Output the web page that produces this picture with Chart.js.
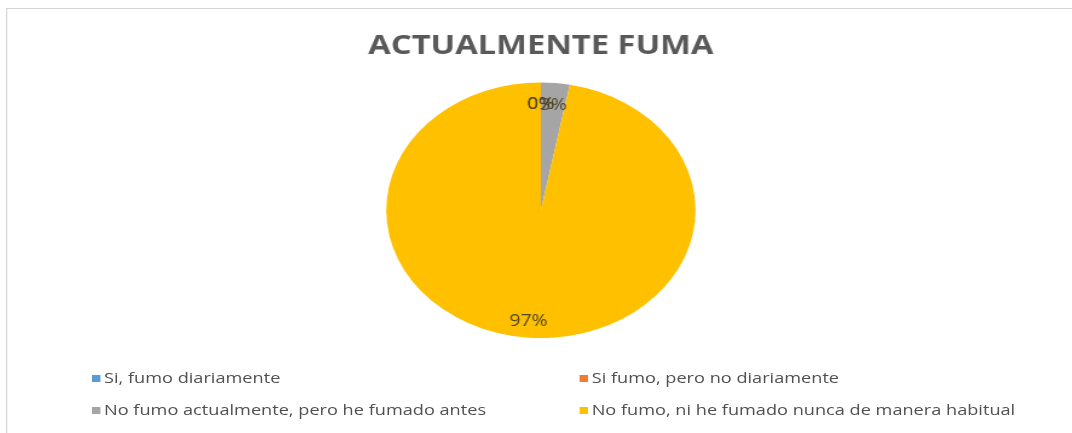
<!DOCTYPE html>
<html>
<head>
<meta charset="utf-8">
<script src="https://cdn.jsdelivr.net/npm/chart.js@4"></script>
<style>
  html, body { margin: 0; padding: 0; background: #fff; overflow: hidden; }
  #stage {
    position: absolute; left: 0; top: 0;
    width: 886px; height: 433px;
    transform: scaleX(1.21); transform-origin: 0 0;
  }
  #frame {
    position: absolute; left: 5px; top: 8px; width: 900px; height: 440px;
    border-left: 1px solid #d4d4d4; border-top: 1px solid #d4d4d4;
  }
  #pie { position: absolute; left: 0; top: 0; }
  #legend {
    position: absolute; left: 0; top: 0; width: 886px; height: 433px;
    font-family: "Open Sans", sans-serif; font-size: 15px; color: #505050;
  }
  .item { position: absolute; white-space: nowrap; line-height: 20px; }
  .item i { display: inline-block; width: 7px; height: 7px; margin-right: 3px; vertical-align: 1px; }
</style>
</head>
<body>
<div id="stage">
  <div id="frame"></div>
  <canvas id="pie" width="886" height="433"></canvas>
  <div id="legend"></div>
</div>
<script>
const chartTitle = 'ACTUALMENTE FUMA';
const categories = [
  'Si, fumo diariamente',
  'Si fumo, pero no diariamente',
  'No fumo actualmente, pero he fumado antes',
  'No fumo, ni he fumado nunca de manera habitual'
];
const percents = [0, 0, 3, 97];
const colors = ['#5B9BD5', '#ED7D31', '#A5A5A5', '#FFC000'];

// percentage text inside each slice, near the rim
const sliceLabels = {
  id: 'sliceLabels',
  afterDatasetsDraw(chart) {
    const ctx = chart.ctx;
    const meta = chart.getDatasetMeta(0);
    ctx.save();
    ctx.font = '16px "Open Sans"';
    ctx.fillStyle = '#4f4628';
    ctx.textAlign = 'center';
    ctx.textBaseline = 'middle';
    meta.data.forEach((arc, i) => {
      const p = arc.getProps(['x', 'y', 'startAngle', 'endAngle', 'outerRadius'], true);
      const mid = (p.startAngle + p.endAngle) / 2;
      const r = p.outerRadius * 0.85;
      ctx.fillText(percents[i] + '%', p.x + Math.cos(mid) * r, p.y + Math.sin(mid) * r + 3);
    });
    ctx.restore();
  }
};

const chart = new Chart(document.getElementById('pie'), {
  type: 'pie',
  data: {
    labels: categories,
    datasets: [{
      data: percents,
      backgroundColor: colors,
      borderWidth: 0
    }]
  },
  options: {
    responsive: false,
    animation: false,
    layout: { padding: { top: 30, bottom: 95, left: 8, right: 0 } },
    plugins: {
      legend: { display: false },
      tooltip: { enabled: false },
      title: {
        display: true,
        text: chartTitle,
        color: '#595959',
        font: { family: 'Open Sans', size: 27, weight: 'bold', lineHeight: 1.2 },
        padding: { top: 0, bottom: 20 }
      }
    }
  },
  plugins: [sliceLabels]
});

// two-column legend under the pie
const legendPos = [[76, 367], [479, 367], [76, 399], [479, 399]];
const legend = document.getElementById('legend');
chart.legend.legendItems.forEach((item, i) => {
  const div = document.createElement('div');
  div.className = 'item';
  div.style.left = legendPos[i][0] + 'px';
  div.style.top = legendPos[i][1] + 'px';
  div.innerHTML = '<i style="background:' + item.fillStyle + '"></i>' + item.text;
  legend.appendChild(div);
});
</script>
</body>
</html>
